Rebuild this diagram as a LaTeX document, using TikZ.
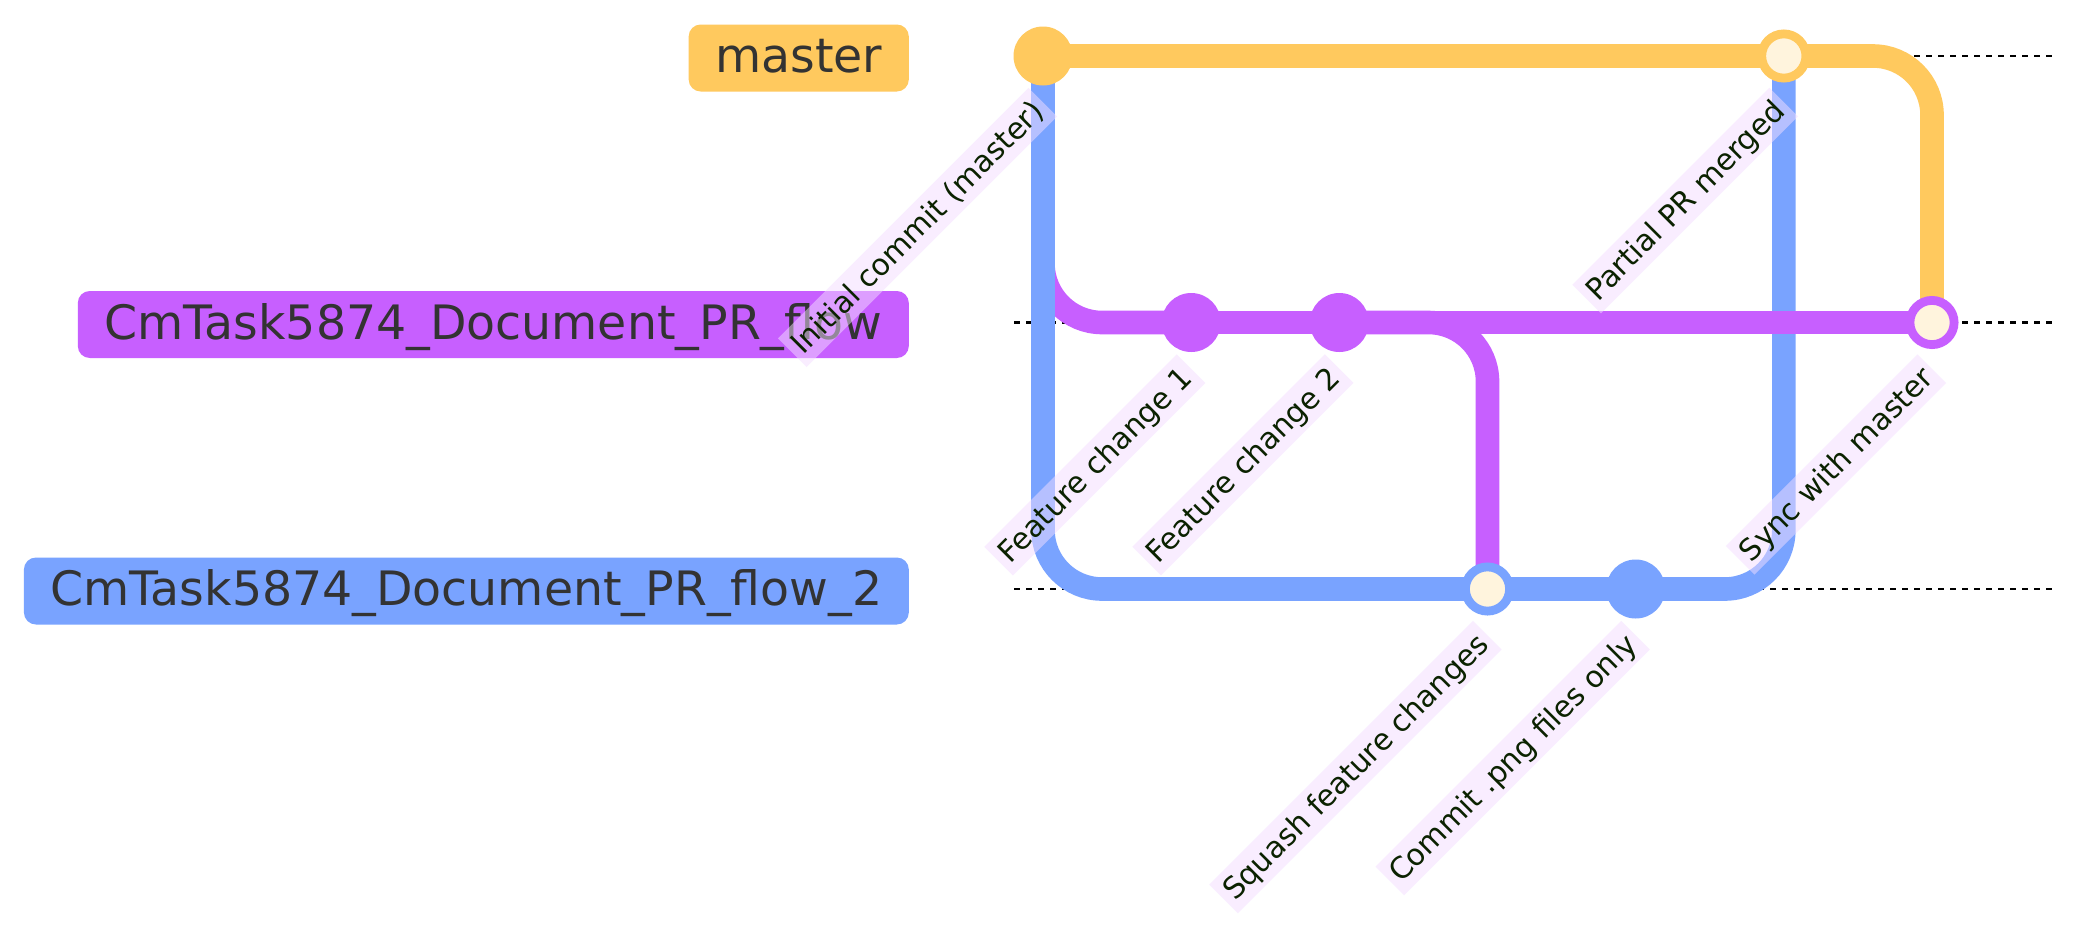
\documentclass[tikz,border=0pt]{standalone}
\usepackage{fontspec}
\setmainfont{DejaVu Sans}
\usetikzlibrary{backgrounds}
\definecolor{cy}{HTML}{FFC95E}
\definecolor{cp}{HTML}{C75FFF}
\definecolor{cb}{HTML}{79A3FF}
\definecolor{cream}{HTML}{FFF4DD}
\definecolor{lblbg}{HTML}{F4DDFF}
\definecolor{lbltxt}{HTML}{0B2200}
\definecolor{brtxt}{HTML}{333333}
\begin{document}
\begin{tikzpicture}[x=1pt,y=-1pt,
  commit/.style={circle, draw=none, minimum size=59pt, inner sep=0pt, outer sep=0pt},
  mergecommit/.style={circle, fill=cream, draw=#1, line width=8.8pt, minimum size=44.2pt, inner sep=0pt, outer sep=0pt},
  branchline/.style={line width=23.6pt, draw=#1, rounded corners=59pt},
  lane/.style={draw=black, line width=2.8pt, dash pattern=on 6pt off 6pt},
  commitlabel/.style={fill=lblbg, fill opacity=0.5, text opacity=1, text=lbltxt,
    font=\fontsize{29.8}{35}\selectfont, inner xsep=6pt, inner ysep=3pt,
    text height=27.5pt, text depth=7pt, anchor=east, rotate=45},
  branchbox/.style={fill=#1, rounded corners=12pt, text=brtxt,
    font=\fontsize{47.4}{56}\selectfont, inner xsep=26.5pt, inner ysep=0pt,
    minimum height=67pt, text height=42.3pt, text depth=12.7pt, anchor=east}
]
\useasboundingbox (0,0) rectangle (2100,948);

% commits
\node[commit, fill=cy] (c0) at (1043,56) {};
\node[commit, fill=cp] (c1) at (1191.2,322.5) {};
\node[commit, fill=cp] (c2) at (1339.3,322.5) {};
\node[mergecommit=cb] (c3) at (1487.5,589) {};
\node[commit, fill=cb] (c4) at (1635.7,589) {};
\node[mergecommit=cy] (c5) at (1783.8,56) {};
\node[mergecommit=cp] (c6) at (1932,322.5) {};

% lane ends
\coordinate (l0a) at (1014,56);   \coordinate (l0b) at (2052,56);
\coordinate (l1a) at (1014,322.5); \coordinate (l1b) at (2052,322.5);
\coordinate (l2a) at (1014,589);  \coordinate (l2b) at (2052,589);

\begin{scope}[on background layer]
  \fill[white] (0,0) rectangle (2100,948);
  \draw[lane] (l0a) -- (l0b);
  \draw[lane] (l1a) -- (l1b);
  \draw[lane] (l2a) -- (l2b);
  \draw[branchline=cp] (c0.center) |- (c1.center);
  \draw[branchline=cp] (c1.center) -- (c2.center);
  \draw[branchline=cb] (c0.center) |- (c3.center);
  \draw[branchline=cp] (c2.center) -| (c3.center);
  \draw[branchline=cb] (c3.center) -- (c4.center);
  \draw[branchline=cb] (c4.center) -| (c5.center);
  \draw[branchline=cy] (c0.center) -- (c5.center);
  \draw[branchline=cy] (c5.center) -| (c6.center);
  \draw[branchline=cp] (c2.center) -- (c6.center);
\end{scope}

% branch labels
\node[branchbox=cy] (bm) at (909,58) {master};
\node[branchbox=cp] (bf) at (909,324.5) {CmTask5874\_Document\_PR\_flow};
\node[branchbox=cb] (bf2) at (909,591) {CmTask5874\_Document\_PR\_flow\_2};

% commit labels
\node[commitlabel] (t0) at ([yshift=-46pt]c0.center) {Initial commit (master)};
\node[commitlabel] (t1) at ([yshift=-46pt]c1.center) {Feature change 1};
\node[commitlabel] (t2) at ([yshift=-46pt]c2.center) {Feature change 2};
\node[commitlabel] (t3) at ([yshift=-46pt]c3.center) {Squash feature changes};
\node[commitlabel] (t4) at ([yshift=-46pt]c4.center) {Commit .png files only};
\node[commitlabel] (t5) at ([yshift=-46pt]c5.center) {Partial PR merged};
\node[commitlabel] (t6) at ([yshift=-46pt]c6.center) {Sync with master};
\end{tikzpicture}
\end{document}
